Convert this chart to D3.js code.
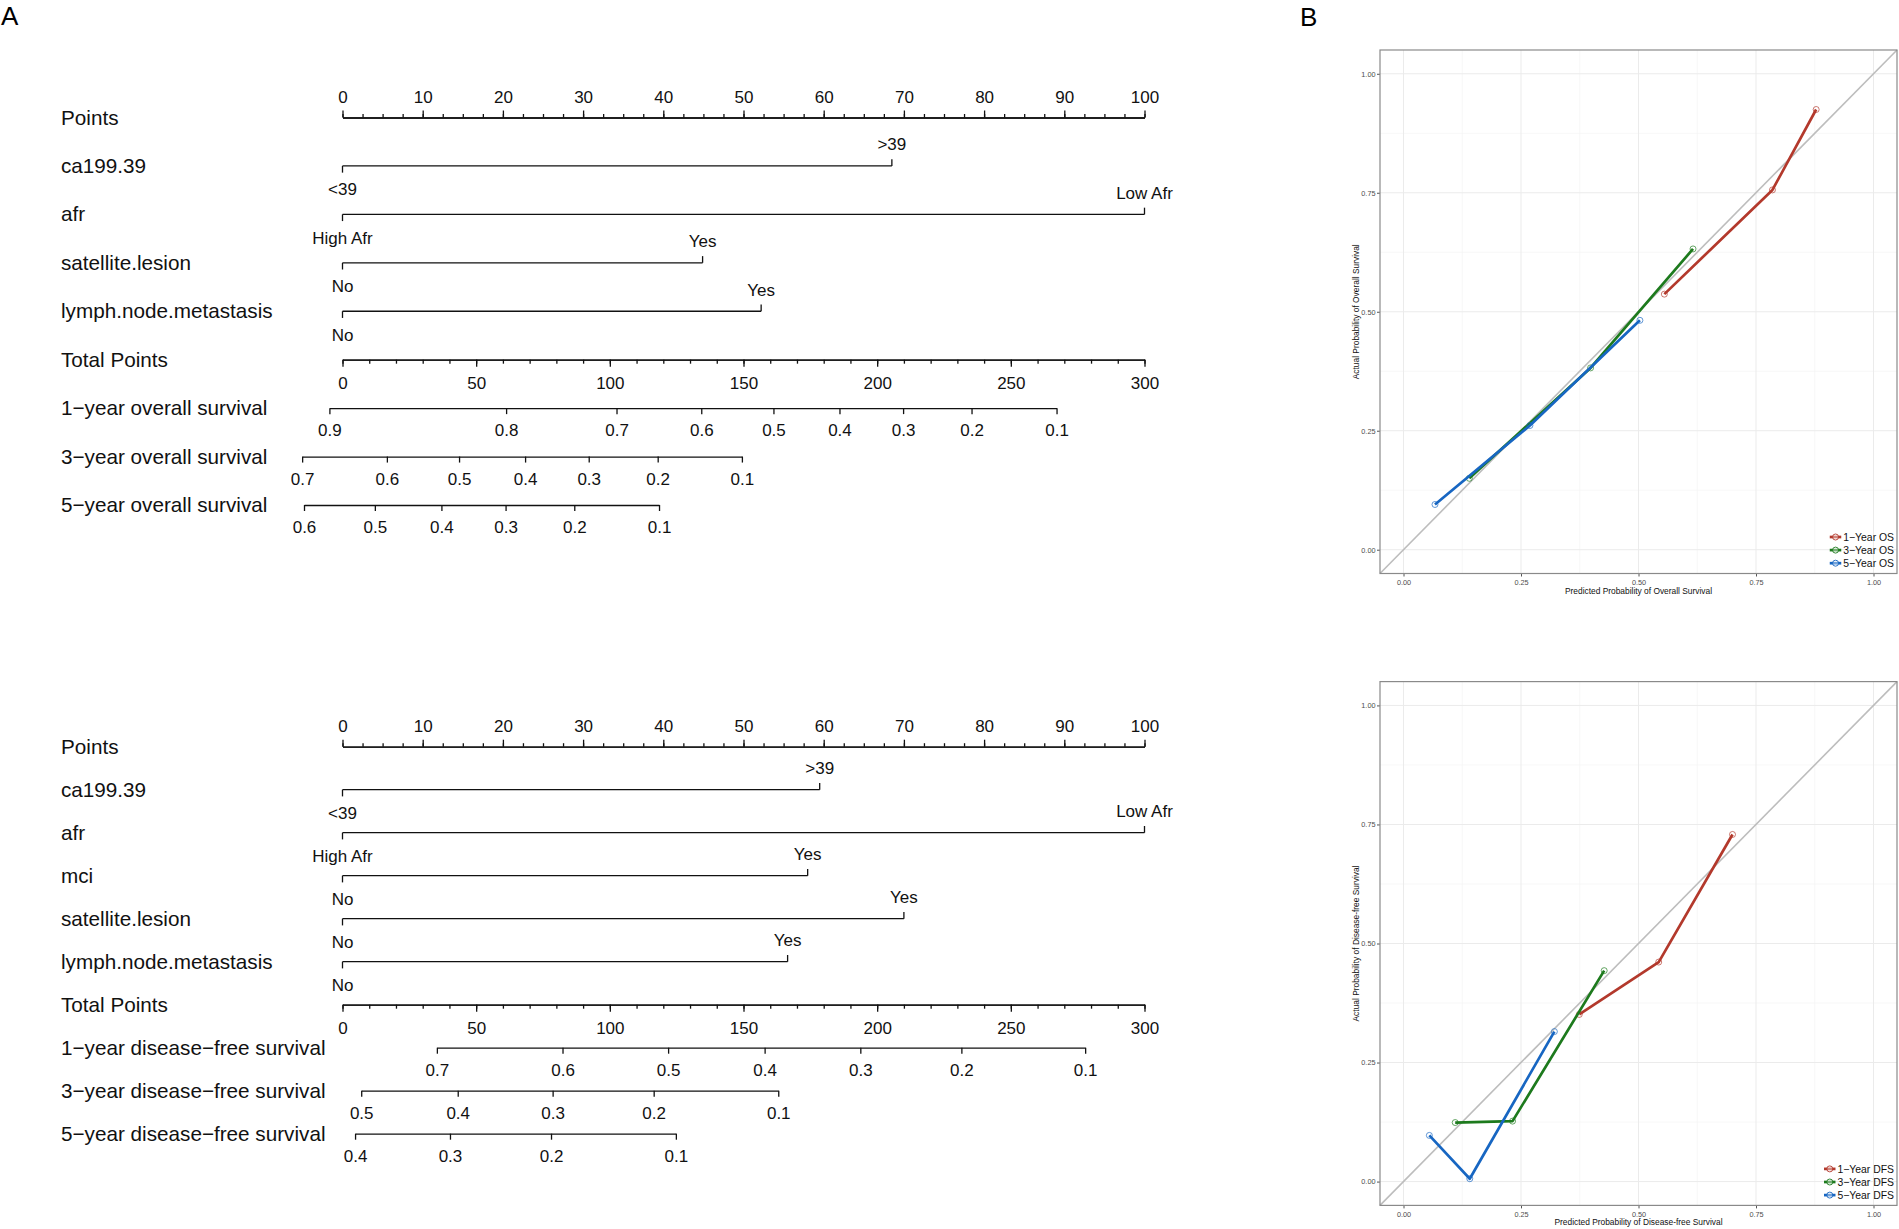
<!DOCTYPE html>
<html>
<head>
<meta charset="utf-8">
<script src="https://cdnjs.cloudflare.com/ajax/libs/d3/7.8.5/d3.min.js"></script>
<style>
body { margin: 0; background: #fff; }
svg { display: block; font-family: "Liberation Sans", Arial, sans-serif; }
</style>
</head>
<body>
<svg id="chart" width="1899" height="1229"></svg>
<script>
// ---- panel A, top nomogram (overall survival)
const osVars = ["ca199.39", "afr", "satellite.lesion", "lymph.node.metastasis"];
const osLow = ["<39", "High Afr", "No", "No"];
const osHigh = [">39", "Low Afr", "Yes", "Yes"];
const osPoints = [68.5, 100, 44.9, 52.2];
const osSurvNames = ["1−year overall survival", "3−year overall survival", "5−year overall survival"];
const osSurvProbs = [
    [0.9, 0.8, 0.7, 0.6, 0.5, 0.4, 0.3, 0.2, 0.1],
    [0.7, 0.6, 0.5, 0.4, 0.3, 0.2, 0.1],
    [0.6, 0.5, 0.4, 0.3, 0.2, 0.1]
];
const osSurvTotals = [
    [-4.9, 61.2, 102.5, 134.2, 161.2, 185.9, 209.7, 235.3, 267.1],
    [-15.1, 16.6, 43.6, 68.3, 92.1, 117.9, 149.4],
    [-14.4, 12.1, 37.0, 61.0, 86.7, 118.4]
];

// ---- panel A, bottom nomogram (disease-free survival)
const dfsVars = ["ca199.39", "afr", "mci", "satellite.lesion", "lymph.node.metastasis"];
const dfsLow = ["<39", "High Afr", "No", "No", "No"];
const dfsHigh = [">39", "Low Afr", "Yes", "Yes", "Yes"];
const dfsPoints = [59.5, 100, 58.0, 70.0, 55.5];
const dfsSurvNames = ["1−year disease−free survival", "3−year disease−free survival", "5−year disease−free survival"];
const dfsSurvProbs = [
    [0.7, 0.6, 0.5, 0.4, 0.3, 0.2, 0.1],
    [0.5, 0.4, 0.3, 0.2, 0.1],
    [0.4, 0.3, 0.2, 0.1]
];
const dfsSurvTotals = [
    [35.3, 82.3, 121.8, 157.9, 193.7, 231.5, 277.8],
    [7.0, 43.1, 78.6, 116.4, 163.0],
    [4.7, 40.2, 78.0, 124.7]
];

const ptsTicks = d3.range(0, 101, 10);
const ptsMinor = d3.range(0, 100.01, 2.5);
const totTicks = d3.range(0, 301, 50);
const totMinor = d3.range(0, 301, 10);

// ---- panel B, calibration curves
const calKeys = ["1−Year", "3−Year", "5−Year"];
const calColors = ["#b3392c", "#1d7a1d", "#1766c2"];
const osPred = [[0.555, 0.785, 0.878], [0.140, 0.398, 0.616], [0.067, 0.269, 0.503]];
const osObs  = [[0.537, 0.756, 0.925], [0.150, 0.382, 0.632], [0.095, 0.261, 0.482]];
const dfsPred = [[0.374, 0.543, 0.700], [0.110, 0.232, 0.427], [0.055, 0.141, 0.321]];
const dfsObs  = [[0.351, 0.461, 0.729], [0.124, 0.127, 0.443], [0.097, 0.006, 0.315]];
const calTicks = [0, 0.25, 0.5, 0.75, 1];
const calMinor = [0.125, 0.375, 0.625, 0.875];

const svg = d3.select("#chart");
svg.append("rect").attr("width", 1899).attr("height", 1229).attr("fill", "#fff");

// shared x scales of the nomograms
let xPts = d3.scaleLinear().domain([0, 100]).range([342.5, 1144.5]);
let xTot = d3.scaleLinear().domain([0, 300]).range([342.5, 1144.5]);
const ink = "#111";

function styleAxis(g, fs) {
    g.attr("color", ink).attr("font-family", null).attr("font-size", fs);
    g.selectAll("line, path").attr("stroke-width", 1.3);
}

function drawNomogram(vars, low, high, points, survNames, survProbs, survTotals, yTop, yBottom) {
    let nRows = vars.length + 2 + survNames.length;
    let y = d3.scaleLinear().domain([0, nRows - 1]).range([yTop, yBottom]);
    let g = svg.append("g");

    let labels = ["Points"].concat(vars, ["Total Points"], survNames);
    g.selectAll("text.rowlab")
        .data(labels)
        .join("text")
        .attr("class", "rowlab")
        .attr("x", 61)
        .attr("y", (d, i) => y(i) + 7)
        .attr("font-size", 20.7)
        .attr("fill", ink)
        .text(d => d);

    // points axis, labels on top
    let pMinor = g.append("g").attr("transform", `translate(0,${y(0)})`)
        .call(d3.axisTop(xPts).tickValues(ptsMinor).tickSize(3.5).tickSizeOuter(0).tickFormat(""));
    styleAxis(pMinor, 17);
    let pAxis = g.append("g").attr("transform", `translate(0,${y(0)})`)
        .call(d3.axisTop(xPts).tickValues(ptsTicks).tickSize(7).tickSizeOuter(0).tickFormat(d3.format("d")));
    styleAxis(pAxis, 17);
    pAxis.selectAll("text").attr("y", -14.8).attr("dy", null);

    // one line per predictor
    vars.forEach(function(v, i) {
        let row = g.append("g").attr("transform", `translate(0,${y(i + 1)})`);
        row.append("line")
            .attr("x1", xPts(0)).attr("x2", xPts(points[i]))
            .attr("stroke", ink).attr("stroke-width", 1.3);
        row.append("line")
            .attr("x1", xPts(0)).attr("x2", xPts(0)).attr("y1", 0).attr("y2", 6.7)
            .attr("stroke", ink).attr("stroke-width", 1.3);
        row.append("line")
            .attr("x1", xPts(points[i])).attr("x2", xPts(points[i])).attr("y1", 0).attr("y2", -6.7)
            .attr("stroke", ink).attr("stroke-width", 1.3);
        row.append("text")
            .attr("x", xPts(points[i])).attr("y", -15.5)
            .attr("text-anchor", "middle").attr("font-size", 17).attr("fill", ink)
            .text(high[i]);
        row.append("text")
            .attr("x", xPts(0)).attr("y", 29.5)
            .attr("text-anchor", "middle").attr("font-size", 17).attr("fill", ink)
            .text(low[i]);
    });

    // total points axis
    let tRow = vars.length + 1;
    let tMinor = g.append("g").attr("transform", `translate(0,${y(tRow)})`)
        .call(d3.axisBottom(xTot).tickValues(totMinor).tickSize(4).tickSizeOuter(0).tickFormat(""));
    styleAxis(tMinor, 17);
    let tAxis = g.append("g").attr("transform", `translate(0,${y(tRow)})`)
        .call(d3.axisBottom(xTot).tickValues(totTicks).tickSize(7).tickSizeOuter(0).tickFormat(d3.format("d")));
    styleAxis(tAxis, 17);
    tAxis.selectAll("text").attr("y", 29.3).attr("dy", null);

    // survival probability axes
    survNames.forEach(function(s, k) {
        let sc = d3.scaleLinear()
            .domain(survProbs[k])
            .range(survTotals[k].map(t => xTot(t)));
        let ax = g.append("g").attr("transform", `translate(0,${y(tRow + 1 + k)})`)
            .call(d3.axisBottom(sc).tickValues(survProbs[k]).tickSize(6).tickSizeOuter(0).tickFormat(d3.format(".1f")));
        styleAxis(ax, 17);
        ax.selectAll("text").attr("y", 28.2).attr("dy", null);
    });
}

drawNomogram(osVars, osLow, osHigh, osPoints, osSurvNames, osSurvProbs, osSurvTotals, 117.5, 505);
drawNomogram(dfsVars, dfsLow, dfsHigh, dfsPoints, dfsSurvNames, dfsSurvProbs, dfsSurvTotals, 746.7, 1133.7);

function drawCalibration(top, bottom, pred, obs, suffix, xTitle, yTitle) {
    let x = d3.scaleLinear().domain([-0.05, 1.05]).range([1380, 1897]);
    let y = d3.scaleLinear().domain([-0.05, 1.05]).range([bottom, top]);
    let g = svg.append("g");

    // grid
    g.selectAll("line.vminor").data(calMinor).join("line")
        .attr("x1", d => x(d)).attr("x2", d => x(d)).attr("y1", top).attr("y2", bottom)
        .attr("stroke", "#f3f3f3").attr("stroke-width", 0.7);
    g.selectAll("line.hminor").data(calMinor).join("line")
        .attr("y1", d => y(d)).attr("y2", d => y(d)).attr("x1", x.range()[0]).attr("x2", x.range()[1])
        .attr("stroke", "#f3f3f3").attr("stroke-width", 0.7);
    g.selectAll("line.vmajor").data(calTicks).join("line")
        .attr("x1", d => x(d)).attr("x2", d => x(d)).attr("y1", top).attr("y2", bottom)
        .attr("stroke", "#ebebeb").attr("stroke-width", 1);
    g.selectAll("line.hmajor").data(calTicks).join("line")
        .attr("y1", d => y(d)).attr("y2", d => y(d)).attr("x1", x.range()[0]).attr("x2", x.range()[1])
        .attr("stroke", "#ebebeb").attr("stroke-width", 1);

    // reference diagonal
    g.append("line")
        .attr("x1", x(-0.05)).attr("y1", y(-0.05)).attr("x2", x(1.05)).attr("y2", y(1.05))
        .attr("stroke", "#bdbdbd").attr("stroke-width", 1.6);

    // axes
    let xa = g.append("g").attr("transform", `translate(0,${bottom})`)
        .call(d3.axisBottom(x).tickValues(calTicks).tickSize(3).tickSizeOuter(0).tickFormat(d3.format(".2f")));
    let ya = g.append("g").attr("transform", `translate(${x.range()[0]},0)`)
        .call(d3.axisLeft(y).tickValues(calTicks).tickSize(3).tickSizeOuter(0).tickFormat(d3.format(".2f")));
    [xa, ya].forEach(a => {
        a.attr("font-family", null).attr("font-size", 7.3).attr("color", "#555");
        a.select(".domain").remove();
    });
    xa.selectAll("text").attr("y", 6).attr("dy", "0.71em").attr("fill", "#4d4d4d");
    ya.selectAll("text").attr("x", -4.5).attr("dy", "0.32em").attr("fill", "#4d4d4d");

    // curves
    let line = d3.line().x(d => x(d[0])).y(d => y(d[1]));
    calKeys.forEach(function(k, i) {
        let pts = pred[i].map((p, j) => [p, obs[i][j]]);
        g.append("path").datum(pts)
            .attr("d", line)
            .attr("fill", "none")
            .attr("stroke", calColors[i])
            .attr("stroke-width", 2.7)
            .attr("stroke-linejoin", "round");
        g.selectAll(null).data(pts).join("circle")
            .attr("cx", d => x(d[0])).attr("cy", d => y(d[1]))
            .attr("r", 3)
            .attr("fill", "none")
            .attr("stroke", calColors[i])
            .attr("stroke-opacity", 0.75)
            .attr("stroke-width", 0.9);
    });

    // panel border
    g.append("rect")
        .attr("x", x.range()[0]).attr("y", top)
        .attr("width", x.range()[1] - x.range()[0]).attr("height", bottom - top)
        .attr("fill", "none").attr("stroke", "#8a8a8a").attr("stroke-width", 1.2);

    // titles
    g.append("text")
        .attr("x", (x.range()[0] + x.range()[1]) / 2).attr("y", bottom + 20)
        .attr("text-anchor", "middle").attr("font-size", 8.4).attr("fill", "#111")
        .text(xTitle);
    g.append("text")
        .attr("transform", `translate(1359,${(top + bottom) / 2}) rotate(-90)`)
        .attr("text-anchor", "middle").attr("font-size", 8.4).attr("fill", "#111")
        .text(yTitle);

    // legend, bottom right inside the panel
    let leg = g.append("g");
    let rows = leg.selectAll("g").data(calKeys).join("g")
        .attr("transform", (d, i) => `translate(0,${bottom - 36.5 + i * 13.1})`);
    rows.append("line")
        .attr("x1", -13.5).attr("x2", -2).attr("y1", 0).attr("y2", 0)
        .attr("stroke", (d, i) => calColors[i]).attr("stroke-width", 2.7);
    rows.append("circle")
        .attr("cx", -7.7).attr("cy", 0).attr("r", 3)
        .attr("fill", "#fff").attr("fill-opacity", 0.4)
        .attr("stroke", (d, i) => calColors[i]).attr("stroke-width", 0.9);
    let texts = rows.append("text")
        .attr("x", 0).attr("y", 3.7)
        .attr("font-size", 10.4).attr("fill", "#111")
        .text(d => d + " " + suffix);
    let maxW = d3.max(texts.nodes(), n => n.getComputedTextLength());
    leg.attr("transform", `translate(${1894 - maxW},0)`);
}

drawCalibration(50, 573.5, osPred, osObs, "OS",
    "Predicted Probability of Overall Survival", "Actual Probability of Overall Survival");
drawCalibration(681.6, 1205.4, dfsPred, dfsObs, "DFS",
    "Predicted Probability of Disease-free Survival", "Actual Probability of Disease-free Survival");

// panel letters
svg.append("text").attr("x", 1).attr("y", 25).attr("font-size", 26).attr("fill", "#000").text("A");
svg.append("text").attr("x", 1300).attr("y", 26).attr("font-size", 26).attr("fill", "#000").text("B");
</script>
</body>
</html>
